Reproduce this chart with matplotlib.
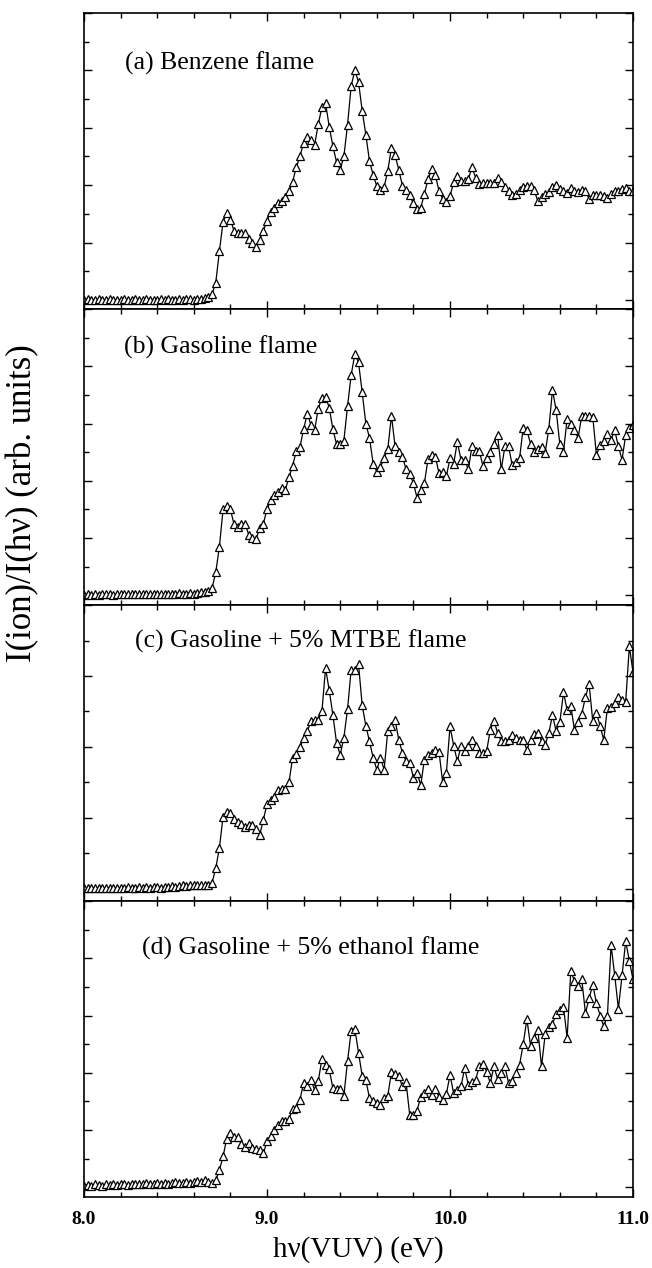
import numpy as np
import matplotlib
matplotlib.use("Agg")
import matplotlib.pyplot as plt
from matplotlib.ticker import MultipleLocator

plt.rcParams['font.family'] = ['Liberation Serif', 'DejaVu Serif']

# photon energy scan, 8.00 .. 11.00 eV in 0.02 eV steps
energy = np.round(np.linspace(8.0, 11.0, 151), 2)

benzene = [
    0.00, 0.01, 0.00, 0.00, 0.01, 0.00, 0.00,
    0.01, 0.00, 0.00, 0.00, 0.01, 0.00, 0.00,
    0.01, 0.00, 0.00, 0.01, 0.00, 0.00, 0.00,
    0.01, 0.00, 0.01, 0.00, 0.00, 0.01, 0.00,
    0.01, 0.01, 0.00, 0.01, 0.02, 0.03, 0.05,
    0.10, 0.30, 0.85, 1.36, 1.52, 1.40, 1.20, 1.16, 1.16, 1.16,
    1.06, 0.99, 0.92, 1.05, 1.20, 1.38, 1.53, 1.61, 1.69, 1.72,
    1.79, 1.89, 2.06, 2.31, 2.50, 2.74, 2.84, 2.78, 2.70, 3.06,
    3.36, 3.43, 3.02, 2.68, 2.40, 2.27, 2.50, 3.05, 3.73, 4.00,
    3.80, 3.30, 2.88, 2.42, 2.18, 1.98, 1.92, 1.97, 2.25, 2.65,
    2.52, 2.27, 1.99, 1.91, 1.82, 1.68, 1.58, 1.60, 1.85, 2.10,
    2.28, 2.17, 1.90, 1.76, 1.70, 1.81, 2.05, 2.16, 2.07, 2.07,
    2.10, 2.31, 2.13, 2.02, 2.03, 2.03, 2.03, 2.04, 2.12, 2.05,
    1.97, 1.90, 1.83, 1.85, 1.91, 1.97, 1.99, 1.99, 1.91, 1.72,
    1.80, 1.84, 1.88, 1.96, 2.01, 1.93, 1.90, 1.86, 1.95, 1.90,
    1.88, 1.92, 1.90, 1.76, 1.82, 1.83, 1.82, 1.81, 1.78, 1.84,
    1.89, 1.90, 1.93, 1.95, 1.90, 1.89,
]

gasoline = [
    0.01, 0.02, 0.01, 0.02, 0.01, 0.02, 0.03,
    0.02, 0.01, 0.02, 0.02, 0.03, 0.02, 0.02,
    0.03, 0.02, 0.03, 0.02, 0.03, 0.03, 0.02,
    0.03, 0.03, 0.02, 0.03, 0.03, 0.04, 0.03,
    0.03, 0.04, 0.03, 0.04, 0.05, 0.06, 0.08,
    0.13, 0.40, 0.85, 1.50, 1.56, 1.50, 1.24, 1.19, 1.24, 1.25,
    1.06, 1.00, 0.98, 1.17, 1.25, 1.50, 1.66, 1.76, 1.80, 1.87,
    1.84, 2.06, 2.26, 2.52, 2.59, 2.90, 3.17, 2.98, 2.88, 3.26,
    3.45, 3.46, 3.28, 2.90, 2.64, 2.64, 2.70, 3.30, 3.85, 4.21,
    4.07, 3.55, 3.00, 2.75, 2.30, 2.16, 2.24, 2.40, 2.55, 3.14,
    2.60, 2.50, 2.42, 2.20, 2.12, 1.96, 1.70, 1.84, 1.96, 2.38,
    2.45, 2.42, 2.13, 2.15, 2.08, 2.39, 2.30, 2.68, 2.37, 2.37,
    2.20, 2.60, 2.52, 2.52, 2.26, 2.39, 2.51, 2.65, 2.80, 2.20,
    2.60, 2.60, 2.27, 2.33, 2.39, 2.93, 2.88, 2.65, 2.51, 2.55,
    2.59, 2.49, 2.91, 3.59, 3.23, 2.64, 2.51, 3.08, 3.00, 2.88,
    2.75, 3.14, 3.13, 3.14, 3.12, 2.45, 2.62, 2.70, 2.82, 2.72,
    2.88, 2.60, 2.37, 2.80, 2.93, 2.97,
]

gasoline_mtbe = [
    0.01, 0.01, 0.02, 0.01, 0.02, 0.02, 0.01,
    0.02, 0.02, 0.01, 0.02, 0.02, 0.03, 0.02,
    0.02, 0.03, 0.02, 0.03, 0.02, 0.03, 0.03,
    0.02, 0.03, 0.03, 0.04, 0.03, 0.04, 0.05,
    0.04, 0.05, 0.06, 0.05, 0.05, 0.05, 0.06,
    0.09, 0.29, 0.58, 1.02, 1.08, 1.07, 0.98, 0.95, 0.92, 0.87,
    0.90, 0.90, 0.85, 0.76, 0.97, 1.20, 1.26, 1.30, 1.39, 1.41,
    1.41, 1.50, 1.85, 1.90, 2.00, 2.12, 2.22, 2.36, 2.38, 2.38,
    2.50, 3.11, 2.80, 2.45, 2.06, 1.89, 2.13, 2.53, 3.09, 3.09,
    3.17, 2.59, 2.30, 2.08, 1.85, 1.68, 1.85, 1.68, 2.23, 2.29,
    2.38, 2.10, 1.92, 1.80, 1.78, 1.57, 1.64, 1.46, 1.82, 1.89,
    1.92, 1.96, 1.93, 1.50, 1.63, 2.29, 2.02, 1.80, 2.01, 1.94,
    2.02, 2.10, 2.01, 1.92, 1.92, 1.94, 2.24, 2.37, 2.20, 2.08,
    2.09, 2.10, 2.17, 2.12, 2.10, 2.10, 1.96, 2.10, 2.18, 2.20,
    2.08, 2.03, 2.20, 2.45, 2.22, 2.35, 2.77, 2.52, 2.58, 2.24,
    2.35, 2.47, 2.70, 2.89, 2.36, 2.48, 2.30, 2.10, 2.55, 2.57,
    2.62, 2.70, 2.66, 2.64, 3.42, 3.05,
]

gasoline_ethanol = [
    0.03, 0.04, 0.03, 0.05, 0.04, 0.03, 0.06,
    0.04, 0.05, 0.04, 0.06, 0.05, 0.04, 0.06,
    0.05, 0.06, 0.05, 0.07, 0.05, 0.06, 0.07,
    0.06, 0.08, 0.06, 0.07, 0.09, 0.07, 0.08,
    0.10, 0.08, 0.09, 0.11, 0.09, 0.12, 0.10,
    0.08, 0.12, 0.30, 0.54, 0.85, 0.95, 0.88, 0.88, 0.75, 0.70,
    0.77, 0.68, 0.66, 0.65, 0.59, 0.80, 0.89, 1.00, 1.09, 1.15,
    1.16, 1.19, 1.36, 1.38, 1.53, 1.82, 1.76, 1.88, 1.70, 1.85,
    2.24, 2.14, 2.06, 1.73, 1.71, 1.72, 1.60, 2.20, 2.73, 2.77,
    2.35, 1.95, 1.87, 1.56, 1.50, 1.47, 1.44, 1.56, 1.60, 2.01,
    1.98, 1.94, 1.76, 1.83, 1.26, 1.27, 1.34, 1.58, 1.65, 1.71,
    1.61, 1.71, 1.58, 1.53, 1.63, 1.96, 1.64, 1.70, 1.76, 2.08,
    1.79, 1.84, 1.88, 2.11, 2.16, 2.02, 1.82, 2.11, 1.89, 2.00,
    2.11, 1.82, 1.85, 2.00, 2.14, 2.50, 2.94, 2.47, 2.60, 2.75,
    2.11, 2.67, 2.80, 2.86, 3.02, 3.10, 3.15, 2.61, 3.78, 3.60,
    3.51, 3.63, 3.04, 3.30, 3.54, 3.22, 3.00, 2.81, 2.99, 4.23,
    3.70, 3.12, 3.70, 4.30, 3.95, 3.63,
]

panel_labels = ["(a) Benzene flame", "(b) Gasoline flame",
                "(c) Gasoline + 5% MTBE flame", "(d) Gasoline + 5% ethanol flame"]
series = [benzene, gasoline, gasoline_mtbe, gasoline_ethanol]
ytops = [5.0, 5.0, 4.0, 5.0]
ybottoms = [-0.16, -0.17, -0.17, -0.17]
label_pos = [(0.075, 0.81), (0.072, 0.85), (0.093, 0.855), (0.105, 0.82)]

fig = plt.figure(figsize=(6.52, 12.68), dpi=100)
gs = fig.add_gridspec(4, 1, left=0.1288, right=0.9709, top=0.9897, bottom=0.0560, hspace=0)

for i in range(4):
    ax = fig.add_subplot(gs[i])
    ax.plot(energy, series[i], '-', color='black', lw=0.9,
            marker='^', ms=5.5, mfc='white', mec='black', mew=0.9)
    ax.set_xlim(8.0, 11.0)
    ax.set_ylim(ybottoms[i], ytops[i])
    ax.xaxis.set_major_locator(MultipleLocator(1.0))
    ax.xaxis.set_minor_locator(MultipleLocator(0.2))
    ax.yaxis.set_major_locator(MultipleLocator(1.0))
    ax.yaxis.set_minor_locator(MultipleLocator(0.5))
    ax.tick_params(which='both', direction='in', top=True, right=True, width=1.0)
    ax.tick_params(which='major', length=6)
    ax.tick_params(which='minor', length=3.5)
    ax.tick_params(axis='y', labelleft=False)
    for s in ax.spines.values():
        s.set_linewidth(1.2)
    ax.text(label_pos[i][0], label_pos[i][1], panel_labels[i], transform=ax.transAxes,
            fontsize=18.5, ha='left', va='baseline')
    if i < 3:
        ax.tick_params(axis='x', labelbottom=False)
    else:
        ax.set_xticks([8.0, 9.0, 10.0, 11.0])
        ax.set_xticklabels(["8.0", "9.0", "10.0", "11.0"], fontsize=14, fontweight='bold')
        ax.tick_params(axis='x', pad=10)
        ax.set_xlabel("hν(VUV) (eV)", fontsize=21, labelpad=6)

fig.text(23 / 652, 1 - 503 / 1268, "I(ion)/I(hν) (arb. units)", rotation=90,
         fontsize=25, ha='center', va='center')

fig.savefig("out.png", dpi=100)
